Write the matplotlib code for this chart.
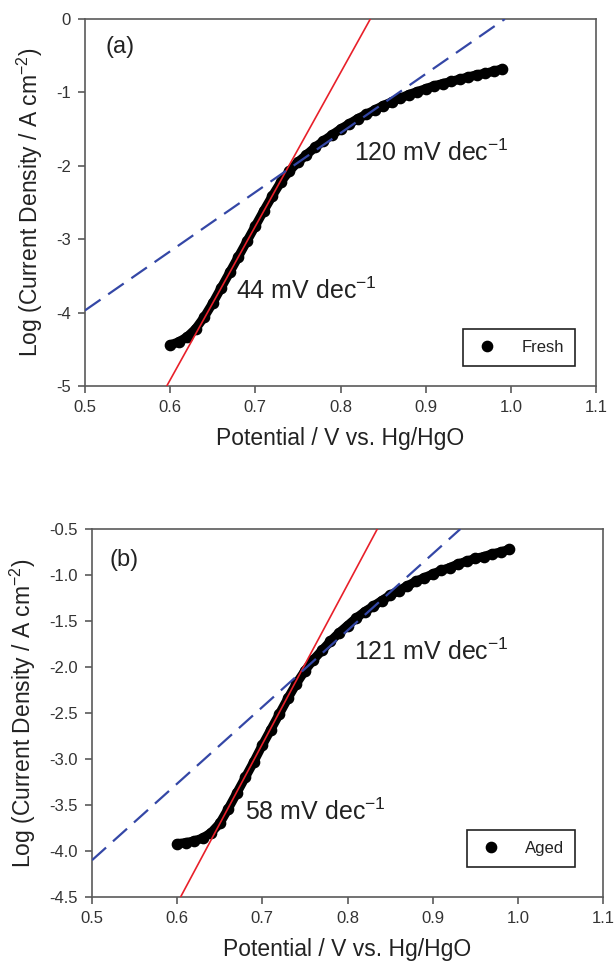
import matplotlib.pyplot as plt
from matplotlib.ticker import FormatStrFormatter, MultipleLocator

plt.rcParams['font.family'] = ['Liberation Sans', 'DejaVu Sans']
plt.rcParams['mathtext.fontset'] = 'custom'
plt.rcParams['mathtext.rm'] = 'Liberation Sans'
plt.rcParams['mathtext.default'] = 'regular'
plt.rcParams['axes.unicode_minus'] = False

# (a) fresh electrode
potential_a = [0.60, 0.61, 0.62, 0.63, 0.64, 0.65, 0.66, 0.67, 0.68, 0.69,
               0.70, 0.71, 0.72, 0.73, 0.74, 0.75, 0.76, 0.77, 0.78, 0.79,
               0.80, 0.81, 0.82, 0.83, 0.84, 0.85, 0.86, 0.87, 0.88, 0.89,
               0.90, 0.91, 0.92, 0.93, 0.94, 0.95, 0.96, 0.97, 0.98, 0.99]
logj_a = [-4.44, -4.40, -4.33, -4.22, -4.06, -3.87, -3.66, -3.45, -3.24, -3.03,
          -2.82, -2.61, -2.41, -2.22, -2.07, -1.95, -1.85, -1.75, -1.66, -1.58,
          -1.50, -1.43, -1.36, -1.30, -1.24, -1.18, -1.13, -1.08, -1.03, -0.99,
          -0.95, -0.91, -0.88, -0.85, -0.82, -0.79, -0.76, -0.74, -0.71, -0.68]
# Tafel fit lines (end points)
fit1_a_x = [0.596, 0.835]
fit1_a_y = [-5.0, 0.0]
fit2_a_x = [0.5, 0.993]
fit2_a_y = [-3.97, 0.0]

# (b) aged electrode
potential_b = potential_a
logj_b = [-3.92, -3.91, -3.89, -3.86, -3.80, -3.70, -3.54, -3.37, -3.20, -3.03,
          -2.85, -2.68, -2.51, -2.34, -2.18, -2.04, -1.92, -1.82, -1.72, -1.63,
          -1.55, -1.47, -1.40, -1.34, -1.28, -1.22, -1.17, -1.12, -1.07, -1.03,
          -0.99, -0.95, -0.92, -0.88, -0.85, -0.82, -0.80, -0.77, -0.75, -0.72]
fit1_b_x = [0.604, 0.835]
fit1_b_y = [-4.5, -0.5]
fit2_b_x = [0.5, 0.9325]
fit2_b_y = [-4.10, -0.5]

W, H = 615, 967
fig = plt.figure(figsize=(W / 100, H / 100), dpi=100)
ax1 = fig.add_axes([85 / W, 1 - 386 / H, 511 / W, 367 / H])
ax2 = fig.add_axes([92 / W, 1 - 897 / H, 511 / W, 368 / H])

red = '#e8202a'
blue = '#3447a6'
spine = '#5a5a5a'


def panel(ax, x, y, f1x, f1y, f2x, f2y, name, ylim, ystep, yfmt):
    ax.plot(x, y, '-', color='black', lw=6.6, solid_capstyle='round',
            solid_joinstyle='round', zorder=2)
    ax.plot(x, y, 'o', color='black', ms=7.4, label=name, zorder=2)
    ax.plot(f1x, f1y, '-', color=red, lw=1.2, zorder=3)
    ax.plot(f2x, f2y, '--', color=blue, lw=1.6, dashes=(8.5, 4.2), zorder=3)
    ax.set_xlim(0.5, 1.1)
    ax.set_ylim(*ylim)
    ax.xaxis.set_major_locator(MultipleLocator(0.1))
    ax.yaxis.set_major_locator(MultipleLocator(ystep))
    ax.xaxis.set_major_formatter(FormatStrFormatter('%.1f'))
    ax.yaxis.set_major_formatter(FormatStrFormatter(yfmt))
    for s in ax.spines.values():
        s.set_color(spine)
        s.set_linewidth(1.2)
    ax.tick_params(direction='out', length=5, width=1.2, color=spine,
                   labelcolor='#333333', labelsize=12, pad=5)
    ax.set_xlabel('Potential / V vs. Hg/HgO', fontsize=16.5, color='#222222', labelpad=9)
    ax.set_ylabel('Log (Current Density / A cm$^{-2}$)', fontsize=16.5,
                  color='#222222', labelpad=8)


panel(ax1, potential_a, logj_a, fit1_a_x, fit1_a_y, fit2_a_x, fit2_a_y,
      'Fresh', (-5, 0), 1, '%d')
panel(ax2, potential_b, logj_b, fit1_b_x, fit1_b_y, fit2_b_x, fit2_b_y,
      'Aged', (-4.5, -0.5), 0.5, '%.1f')

ax1.text(0.524, -0.46, '(a)', fontsize=17, color='#222222')
ax1.text(0.677, -3.81, '44 mV dec$^{-1}$', fontsize=18, color='#222222')
ax1.text(0.816, -1.93, '120 mV dec$^{-1}$', fontsize=18, color='#222222')
ax2.text(0.520, -0.90, '(b)', fontsize=17, color='#222222')
ax2.text(0.680, -3.66, '58 mV dec$^{-1}$', fontsize=18, color='#222222')
ax2.text(0.808, -1.92, '121 mV dec$^{-1}$', fontsize=18, color='#222222')

for ax, anchor in [(ax1, (0.959, 0.054)), (ax2, (0.945, 0.082))]:
    leg = ax.legend(loc='lower right', bbox_to_anchor=anchor, borderaxespad=0,
                    fontsize=12, fancybox=False, edgecolor='#222222',
                    framealpha=1, borderpad=0.66, handlelength=1.56,
                    handletextpad=1.27)
    leg.get_frame().set_linewidth(1.2)
    for t in leg.get_texts():
        t.set_color('#222222')

fig.savefig('out.png', dpi=100)
